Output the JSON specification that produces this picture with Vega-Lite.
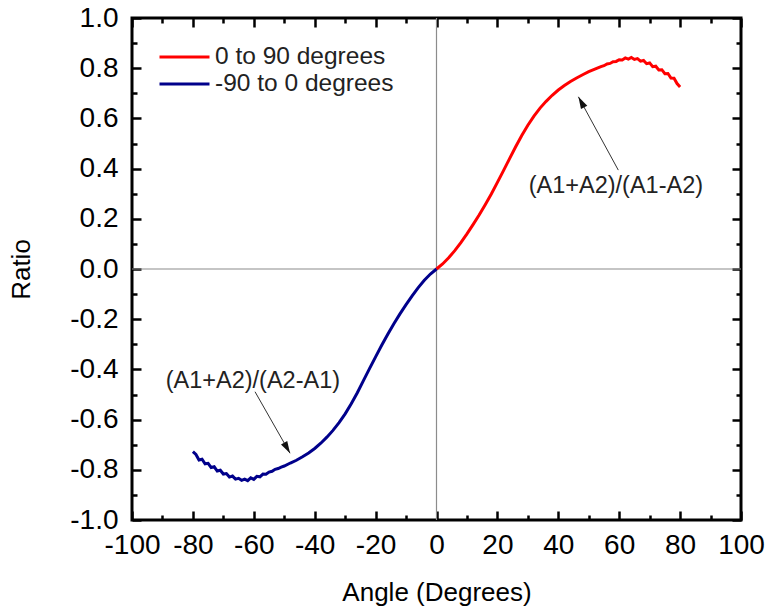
{
  "$schema": "https://vega.github.io/schema/vega-lite/v6.json",
  "width": 609,
  "height": 502,
  "autosize": {"type": "none"},
  "padding": {"left": 132, "top": 18, "right": 31, "bottom": 91},
  "background": "white",
  "config": {
    "view": {"stroke": "black", "strokeWidth": 3},
    "font": "Liberation Sans",
    "axis": {"domain": false, "grid": false, "labelFont": "Liberation Sans", "titleFont": "Liberation Sans", "labelColor": "black", "titleColor": "black", "tickColor": "black", "tickWidth": 2.5, "labelFontSize": 28, "titleFontSize": 26, "titleFontWeight": "normal", "labelFlush": false, "labelOverlap": false}
  },
  "datasets": {
    "curves": [
      {"series": "0 to 90 degrees", "angle": 0, "ratio": 0},
      {"series": "0 to 90 degrees", "angle": 2, "ratio": 0.02},
      {"series": "0 to 90 degrees", "angle": 4, "ratio": 0.045},
      {"series": "0 to 90 degrees", "angle": 6, "ratio": 0.073},
      {"series": "0 to 90 degrees", "angle": 8, "ratio": 0.105},
      {"series": "0 to 90 degrees", "angle": 10, "ratio": 0.14},
      {"series": "0 to 90 degrees", "angle": 12, "ratio": 0.177},
      {"series": "0 to 90 degrees", "angle": 14, "ratio": 0.215},
      {"series": "0 to 90 degrees", "angle": 16, "ratio": 0.256},
      {"series": "0 to 90 degrees", "angle": 18, "ratio": 0.299},
      {"series": "0 to 90 degrees", "angle": 20, "ratio": 0.345},
      {"series": "0 to 90 degrees", "angle": 22, "ratio": 0.392},
      {"series": "0 to 90 degrees", "angle": 24, "ratio": 0.44},
      {"series": "0 to 90 degrees", "angle": 26, "ratio": 0.487},
      {"series": "0 to 90 degrees", "angle": 28, "ratio": 0.532},
      {"series": "0 to 90 degrees", "angle": 30, "ratio": 0.573},
      {"series": "0 to 90 degrees", "angle": 32, "ratio": 0.609},
      {"series": "0 to 90 degrees", "angle": 34, "ratio": 0.641},
      {"series": "0 to 90 degrees", "angle": 36, "ratio": 0.668},
      {"series": "0 to 90 degrees", "angle": 38, "ratio": 0.692},
      {"series": "0 to 90 degrees", "angle": 40, "ratio": 0.713},
      {"series": "0 to 90 degrees", "angle": 42, "ratio": 0.731},
      {"series": "0 to 90 degrees", "angle": 44, "ratio": 0.747},
      {"series": "0 to 90 degrees", "angle": 46, "ratio": 0.761},
      {"series": "0 to 90 degrees", "angle": 48, "ratio": 0.774},
      {"series": "0 to 90 degrees", "angle": 50, "ratio": 0.786},
      {"series": "0 to 90 degrees", "angle": 51, "ratio": 0.791},
      {"series": "0 to 90 degrees", "angle": 52, "ratio": 0.796},
      {"series": "0 to 90 degrees", "angle": 53, "ratio": 0.801},
      {"series": "0 to 90 degrees", "angle": 54, "ratio": 0.806},
      {"series": "0 to 90 degrees", "angle": 55, "ratio": 0.81},
      {"series": "0 to 90 degrees", "angle": 56, "ratio": 0.817},
      {"series": "0 to 90 degrees", "angle": 57, "ratio": 0.819},
      {"series": "0 to 90 degrees", "angle": 58, "ratio": 0.826},
      {"series": "0 to 90 degrees", "angle": 59, "ratio": 0.827},
      {"series": "0 to 90 degrees", "angle": 60, "ratio": 0.834},
      {"series": "0 to 90 degrees", "angle": 61, "ratio": 0.833},
      {"series": "0 to 90 degrees", "angle": 62, "ratio": 0.841},
      {"series": "0 to 90 degrees", "angle": 63, "ratio": 0.836},
      {"series": "0 to 90 degrees", "angle": 64, "ratio": 0.843},
      {"series": "0 to 90 degrees", "angle": 65, "ratio": 0.835},
      {"series": "0 to 90 degrees", "angle": 66, "ratio": 0.838},
      {"series": "0 to 90 degrees", "angle": 67, "ratio": 0.828},
      {"series": "0 to 90 degrees", "angle": 68, "ratio": 0.831},
      {"series": "0 to 90 degrees", "angle": 69, "ratio": 0.818},
      {"series": "0 to 90 degrees", "angle": 70, "ratio": 0.821},
      {"series": "0 to 90 degrees", "angle": 71, "ratio": 0.806},
      {"series": "0 to 90 degrees", "angle": 72, "ratio": 0.808},
      {"series": "0 to 90 degrees", "angle": 73, "ratio": 0.793},
      {"series": "0 to 90 degrees", "angle": 74, "ratio": 0.794},
      {"series": "0 to 90 degrees", "angle": 75, "ratio": 0.778},
      {"series": "0 to 90 degrees", "angle": 76, "ratio": 0.779},
      {"series": "0 to 90 degrees", "angle": 77, "ratio": 0.761},
      {"series": "0 to 90 degrees", "angle": 78, "ratio": 0.76},
      {"series": "0 to 90 degrees", "angle": 79, "ratio": 0.739},
      {"series": "0 to 90 degrees", "angle": 80, "ratio": 0.725},
      {"series": "-90 to 0 degrees", "angle": 0, "ratio": 0},
      {"series": "-90 to 0 degrees", "angle": -2, "ratio": -0.02},
      {"series": "-90 to 0 degrees", "angle": -4, "ratio": -0.045},
      {"series": "-90 to 0 degrees", "angle": -6, "ratio": -0.074},
      {"series": "-90 to 0 degrees", "angle": -8, "ratio": -0.107},
      {"series": "-90 to 0 degrees", "angle": -10, "ratio": -0.142},
      {"series": "-90 to 0 degrees", "angle": -12, "ratio": -0.179},
      {"series": "-90 to 0 degrees", "angle": -14, "ratio": -0.218},
      {"series": "-90 to 0 degrees", "angle": -16, "ratio": -0.26},
      {"series": "-90 to 0 degrees", "angle": -18, "ratio": -0.304},
      {"series": "-90 to 0 degrees", "angle": -20, "ratio": -0.35},
      {"series": "-90 to 0 degrees", "angle": -22, "ratio": -0.397},
      {"series": "-90 to 0 degrees", "angle": -24, "ratio": -0.445},
      {"series": "-90 to 0 degrees", "angle": -26, "ratio": -0.493},
      {"series": "-90 to 0 degrees", "angle": -28, "ratio": -0.537},
      {"series": "-90 to 0 degrees", "angle": -30, "ratio": -0.577},
      {"series": "-90 to 0 degrees", "angle": -32, "ratio": -0.612},
      {"series": "-90 to 0 degrees", "angle": -34, "ratio": -0.643},
      {"series": "-90 to 0 degrees", "angle": -36, "ratio": -0.67},
      {"series": "-90 to 0 degrees", "angle": -38, "ratio": -0.694},
      {"series": "-90 to 0 degrees", "angle": -40, "ratio": -0.715},
      {"series": "-90 to 0 degrees", "angle": -42, "ratio": -0.733},
      {"series": "-90 to 0 degrees", "angle": -44, "ratio": -0.748},
      {"series": "-90 to 0 degrees", "angle": -46, "ratio": -0.762},
      {"series": "-90 to 0 degrees", "angle": -48, "ratio": -0.773},
      {"series": "-90 to 0 degrees", "angle": -50, "ratio": -0.785},
      {"series": "-90 to 0 degrees", "angle": -51, "ratio": -0.789},
      {"series": "-90 to 0 degrees", "angle": -52, "ratio": -0.795},
      {"series": "-90 to 0 degrees", "angle": -53, "ratio": -0.798},
      {"series": "-90 to 0 degrees", "angle": -54, "ratio": -0.806},
      {"series": "-90 to 0 degrees", "angle": -55, "ratio": -0.809},
      {"series": "-90 to 0 degrees", "angle": -56, "ratio": -0.818},
      {"series": "-90 to 0 degrees", "angle": -57, "ratio": -0.817},
      {"series": "-90 to 0 degrees", "angle": -58, "ratio": -0.828},
      {"series": "-90 to 0 degrees", "angle": -59, "ratio": -0.826},
      {"series": "-90 to 0 degrees", "angle": -60, "ratio": -0.838},
      {"series": "-90 to 0 degrees", "angle": -61, "ratio": -0.832},
      {"series": "-90 to 0 degrees", "angle": -62, "ratio": -0.843},
      {"series": "-90 to 0 degrees", "angle": -63, "ratio": -0.837},
      {"series": "-90 to 0 degrees", "angle": -64, "ratio": -0.842},
      {"series": "-90 to 0 degrees", "angle": -65, "ratio": -0.834},
      {"series": "-90 to 0 degrees", "angle": -66, "ratio": -0.837},
      {"series": "-90 to 0 degrees", "angle": -67, "ratio": -0.825},
      {"series": "-90 to 0 degrees", "angle": -68, "ratio": -0.829},
      {"series": "-90 to 0 degrees", "angle": -69, "ratio": -0.815},
      {"series": "-90 to 0 degrees", "angle": -70, "ratio": -0.817},
      {"series": "-90 to 0 degrees", "angle": -71, "ratio": -0.802},
      {"series": "-90 to 0 degrees", "angle": -72, "ratio": -0.805},
      {"series": "-90 to 0 degrees", "angle": -73, "ratio": -0.788},
      {"series": "-90 to 0 degrees", "angle": -74, "ratio": -0.791},
      {"series": "-90 to 0 degrees", "angle": -75, "ratio": -0.774},
      {"series": "-90 to 0 degrees", "angle": -76, "ratio": -0.776},
      {"series": "-90 to 0 degrees", "angle": -77, "ratio": -0.758},
      {"series": "-90 to 0 degrees", "angle": -78, "ratio": -0.761},
      {"series": "-90 to 0 degrees", "angle": -79, "ratio": -0.739},
      {"series": "-90 to 0 degrees", "angle": -80, "ratio": -0.728}
    ]
  },
  "resolve": {"axis": {"x": "independent", "y": "independent"}},
  "layer": [
    {
      "data": {"values": [{"angle": 0}]},
      "mark": {"type": "rule", "color": "#8c8c8c", "strokeWidth": 1.2},
      "encoding": {"x": {"field": "angle", "type": "quantitative", "scale": {"domain": [-100, 100], "nice": false}, "axis": null}}
    },
    {
      "data": {"values": [{"ratio": 0}]},
      "mark": {"type": "rule", "color": "#8c8c8c", "strokeWidth": 1.2},
      "encoding": {"y": {"field": "ratio", "type": "quantitative", "scale": {"domain": [-1, 1], "nice": false}, "axis": null}}
    },
    {
      "data": {"name": "curves"},
      "mark": {"type": "line", "strokeWidth": 3},
      "encoding": {
        "x": {"field": "angle", "type": "quantitative", "scale": {"domain": [-100, 100], "nice": false},
          "axis": {"orient": "bottom", "title": "Angle (Degrees)", "titlePadding": 20, "labelPadding": 20, "tickSize": -9,
            "values": [-100, -80, -60, -40, -20, 0, 20, 40, 60, 80, 100],
            "labelExpr": "replace(datum.label, '\u2212', '-')"}},
        "y": {"field": "ratio", "type": "quantitative", "scale": {"domain": [-1, 1], "nice": false},
          "axis": {"orient": "left", "title": "Ratio", "titlePadding": 35, "labelPadding": 23, "tickSize": -9,
            "values": [-1, -0.8, -0.6, -0.4, -0.2, 0, 0.2, 0.4, 0.6, 0.8, 1],
            "labelExpr": "replace(format(datum.value, '.1f'), '\u2212', '-')"}},
        "color": {"field": "series", "type": "nominal",
          "scale": {"domain": ["0 to 90 degrees", "-90 to 0 degrees"], "range": ["#ff0000", "#00008b"]},
          "legend": {"orient": "none", "legendX": 26, "legendY": 25, "title": null, "symbolType": "M-1,0L3,0", "symbolSize": 625, "symbolStrokeWidth": 3, "labelFontSize": 24.5, "labelFont": "Liberation Sans", "labelColor": "#222", "labelOffset": 29, "labelLimit": 400, "rowPadding": 1, "padding": 0}}
      }
    },
    {
      "data": {"values": [
        {"x1": 59.7, "y1": 0.394, "x2": 46.6, "y2": 0.686},
        {"x1": -59.6, "y1": -0.489, "x2": -48.1, "y2": -0.734}
      ]},
      "mark": {"type": "rule", "color": "#333", "strokeWidth": 1},
      "encoding": {
        "x": {"field": "x1", "type": "quantitative", "scale": {"domain": [-100, 100], "nice": false}, "axis": null},
        "y": {"field": "y1", "type": "quantitative", "scale": {"domain": [-1, 1], "nice": false}, "axis": null},
        "x2": {"field": "x2"},
        "y2": {"field": "y2"}
      }
    },
    {
      "data": {"values": [{"x": 46.6, "y": 0.686}]},
      "mark": {"type": "point", "shape": "M0,0L0.6,2L-0.6,2Z", "filled": true, "color": "#111", "size": 144, "angle": 331.4, "opacity": 1},
      "encoding": {
        "x": {"field": "x", "type": "quantitative", "scale": {"domain": [-100, 100], "nice": false}, "axis": null},
        "y": {"field": "y", "type": "quantitative", "scale": {"domain": [-1, 1], "nice": false}, "axis": null}
      }
    },
    {
      "data": {"values": [{"x": -48.1, "y": -0.734}]},
      "mark": {"type": "point", "shape": "M0,0L0.6,2L-0.6,2Z", "filled": true, "color": "#111", "size": 144, "angle": 150.4, "opacity": 1},
      "encoding": {
        "x": {"field": "x", "type": "quantitative", "scale": {"domain": [-100, 100], "nice": false}, "axis": null},
        "y": {"field": "y", "type": "quantitative", "scale": {"domain": [-1, 1], "nice": false}, "axis": null}
      }
    },
    {
      "data": {"values": [
        {"x": 58.9, "y": 0.331, "label": "(A1+A2)/(A1-A2)"},
        {"x": -60.3, "y": -0.446, "label": "(A1+A2)/(A2-A1)"}
      ]},
      "mark": {"type": "text", "fontSize": 23.5, "font": "Liberation Sans", "color": "#222", "align": "center", "baseline": "middle"},
      "encoding": {
        "x": {"field": "x", "type": "quantitative", "scale": {"domain": [-100, 100], "nice": false}, "axis": null},
        "y": {"field": "y", "type": "quantitative", "scale": {"domain": [-1, 1], "nice": false}, "axis": null},
        "text": {"field": "label"}
      }
    },
    {
      "data": {"values": [{"angle": 0, "ratio": 0}]},
      "mark": {"type": "point", "opacity": 0},
      "encoding": {
        "x": {"field": "angle", "type": "quantitative", "scale": {"domain": [-100, 100], "nice": false},
          "axis": {"orient": "bottom", "title": null, "labels": false, "tickSize": -5,
            "values": [-90, -70, -50, -30, -10, 10, 30, 50, 70, 90]}},
        "y": {"field": "ratio", "type": "quantitative", "scale": {"domain": [-1, 1], "nice": false},
          "axis": {"orient": "left", "title": null, "labels": false, "tickSize": -5,
            "values": [-0.9, -0.7, -0.5, -0.3, -0.1, 0.1, 0.3, 0.5, 0.7, 0.9]}}
      }
    },
    {
      "data": {"values": [{"angle": 0, "ratio": 0}]},
      "mark": {"type": "point", "opacity": 0},
      "encoding": {
        "x": {"field": "angle", "type": "quantitative", "scale": {"domain": [-100, 100], "nice": false},
          "axis": {"orient": "top", "title": null, "labels": false, "tickSize": -9,
            "values": [-100, -80, -60, -40, -20, 0, 20, 40, 60, 80, 100]}},
        "y": {"field": "ratio", "type": "quantitative", "scale": {"domain": [-1, 1], "nice": false},
          "axis": {"orient": "right", "title": null, "labels": false, "tickSize": -9,
            "values": [-1, -0.8, -0.6, -0.4, -0.2, 0, 0.2, 0.4, 0.6, 0.8, 1]}}
      }
    },
    {
      "data": {"values": [{"angle": 0, "ratio": 0}]},
      "mark": {"type": "point", "opacity": 0},
      "encoding": {
        "x": {"field": "angle", "type": "quantitative", "scale": {"domain": [-100, 100], "nice": false},
          "axis": {"orient": "top", "title": null, "labels": false, "tickSize": -5,
            "values": [-90, -70, -50, -30, -10, 10, 30, 50, 70, 90]}},
        "y": {"field": "ratio", "type": "quantitative", "scale": {"domain": [-1, 1], "nice": false},
          "axis": {"orient": "right", "title": null, "labels": false, "tickSize": -5,
            "values": [-0.9, -0.7, -0.5, -0.3, -0.1, 0.1, 0.3, 0.5, 0.7, 0.9]}}
      }
    }
  ]
}
